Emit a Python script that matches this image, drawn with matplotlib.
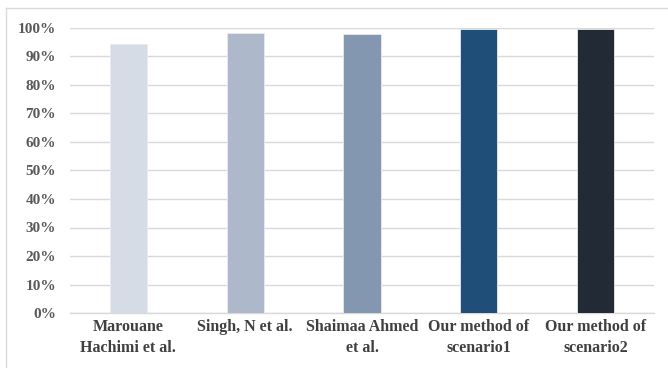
import numpy as np
import matplotlib.pyplot as plt
from matplotlib.ticker import PercentFormatter
from matplotlib.lines import Line2D

methods = ["Marouane\nHachimi et al.", "Singh, N et al.", "Shaimaa Ahmed\net al.",
           "Our method of\nscenario1", "Our method of\nscenario2"]
accuracy = [94.4, 98.2, 97.9, 99.6, 99.6]
colors = ["#D6DCE5", "#ADB9CA", "#8497B0", "#1F4E79", "#222A35"]

plt.rcParams['font.family'] = ['Liberation Serif', 'DejaVu Serif']
plt.rcParams['font.weight'] = 'bold'

fig = plt.figure(figsize=(6.68, 3.68), dpi=100)
ax = fig.add_axes([70/668, 1 - 313/368, 584/668, 285/368])

x = np.arange(len(methods))
ax.bar(x, accuracy, width=0.32, color=colors, edgecolor="#E8EBF0", linewidth=0.6, zorder=3)

ax.set_xlim(-0.5, len(methods) - 0.5)
ax.set_ylim(0, 100)
ax.set_yticks(np.arange(0, 101, 10))
ax.yaxis.set_major_formatter(PercentFormatter(decimals=0))
ax.set_xticks(x)
ax.set_xticklabels(methods, fontsize=11.5, color="#404040", linespacing=1.45)
ax.tick_params(axis='y', labelsize=11, labelcolor="#595959", length=0, pad=10)
ax.tick_params(axis='x', length=0, pad=4)
ax.grid(axis='y', color="#D9D9D9", linewidth=1, zorder=0)
for s in ["top", "right", "left"]:
    ax.spines[s].set_visible(False)
ax.spines["bottom"].set_color("#D9D9D9")
ax.spines["bottom"].set_linewidth(1)

# chart frame
fig.add_artist(Line2D([6/668, 6/668], [0, 1 - 8/368], transform=fig.transFigure,
                      color="#D9D9D9", linewidth=1))
fig.add_artist(Line2D([6/668, 1], [1 - 8/368, 1 - 8/368], transform=fig.transFigure,
                      color="#D9D9D9", linewidth=1))

fig.savefig("out.png", dpi=100)
